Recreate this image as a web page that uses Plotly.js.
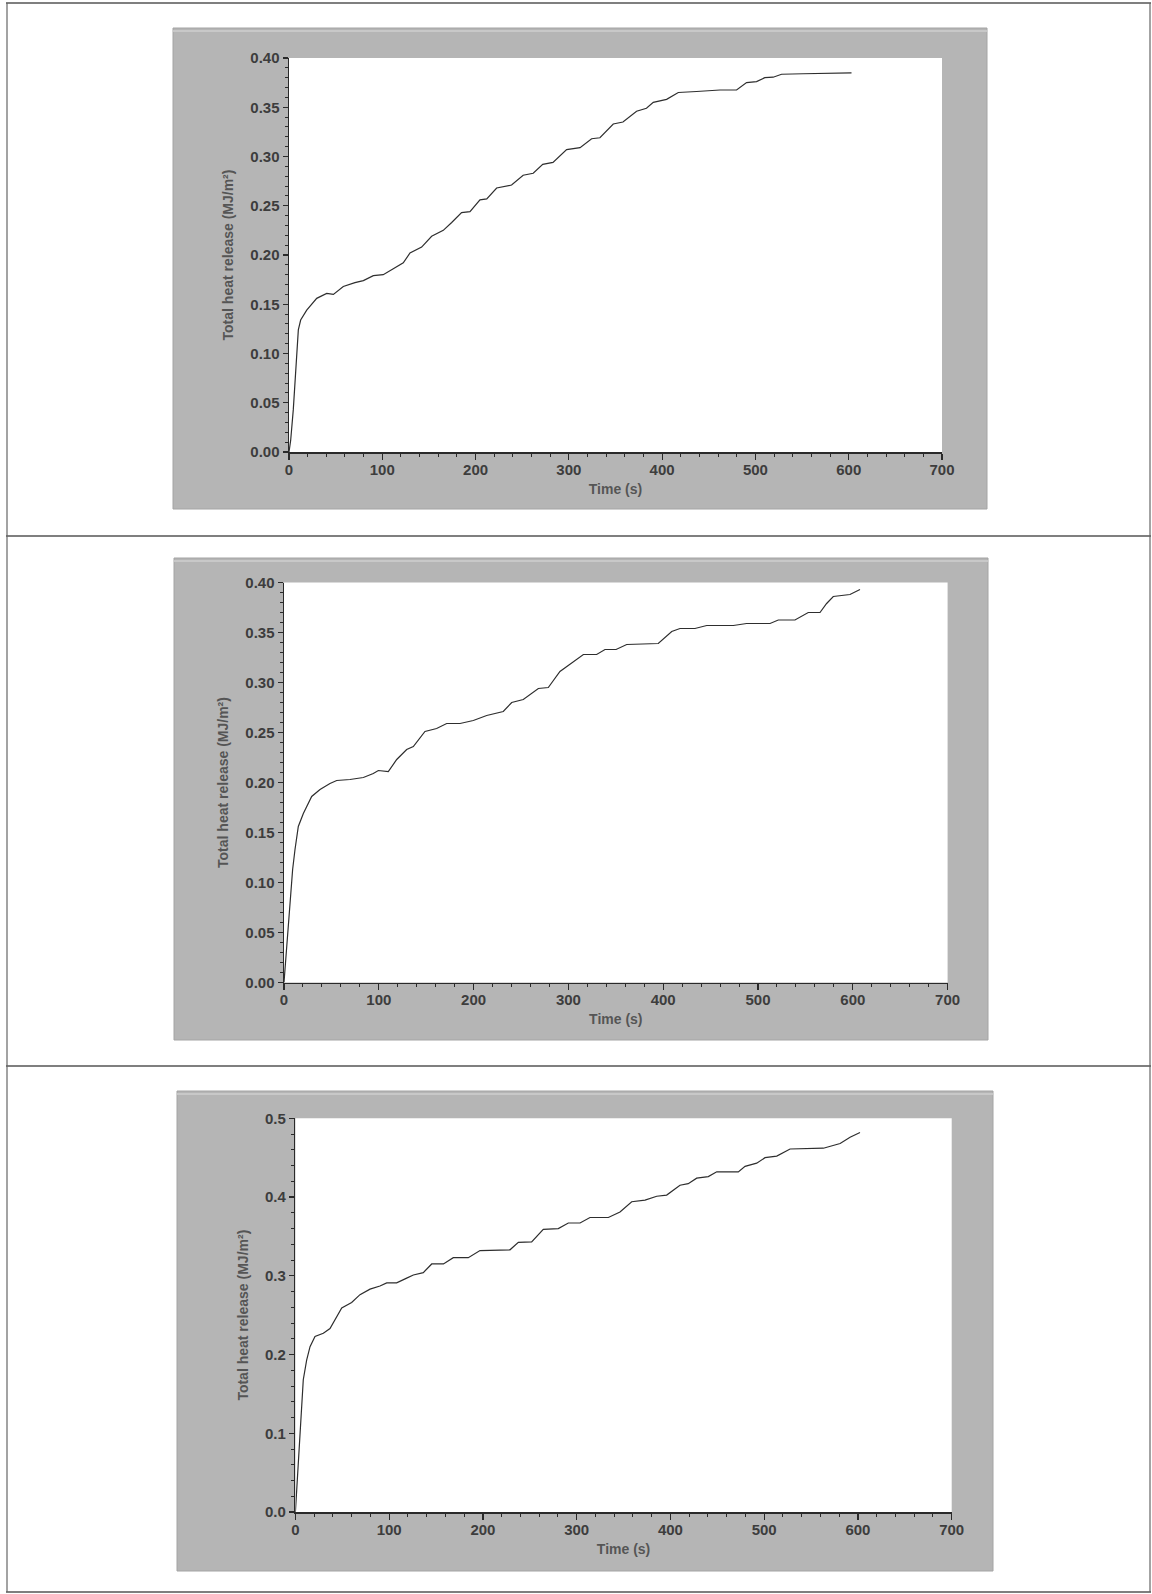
<!DOCTYPE html>
<html>
<head>
<meta charset="utf-8">
<script src="https://cdn.plot.ly/plotly-3.0.1.min.js"></script>
<style>
  html, body { margin: 0; padding: 0; background: #ffffff; }
  #chart { width: 1152px; height: 1594px; }
</style>
</head>
<body>
<div id="chart"></div>
<script>
// ---- Data ----
const xTitle = "Time (s)";
const yTitle = "Total heat release (MJ/m²)";

// Panel 1
const time1 = [0, 1.8, 4.6, 7.5, 10, 12.5, 19, 29.7, 40.4, 47.6, 58.2, 70.7, 79.7, 90.4, 101, 111.8, 122.5, 129.7, 142.2, 152.9, 165.4, 174.4, 185, 194, 204.7, 212, 222.6, 238.6, 251, 261.8, 272, 283, 297.6, 312, 324.4, 333.3, 347.6, 358, 372.6, 383.2, 390.5, 404.8, 417.3, 436.9, 462, 479.8, 490.5, 501.2, 510, 519, 528, 551, 603];
const thr1  = [0, 0.012, 0.043, 0.083, 0.124, 0.134, 0.144, 0.156, 0.161, 0.160, 0.168, 0.172, 0.174, 0.179, 0.180, 0.186, 0.192, 0.202, 0.208, 0.219, 0.225, 0.233, 0.243, 0.244, 0.256, 0.257, 0.268, 0.271, 0.281, 0.283, 0.292, 0.294, 0.307, 0.309, 0.318, 0.319, 0.333, 0.335, 0.346, 0.349, 0.355, 0.358, 0.365, 0.366, 0.3675, 0.3675, 0.375, 0.376, 0.380, 0.3805, 0.3835, 0.384, 0.385];

// Panel 2
const time2 = [0, 2.8, 6.3, 9.1, 11.6, 15.1, 20.4, 29.2, 38, 48.5, 55.6, 69.6, 83.7, 94.2, 99.5, 110, 118.9, 129.4, 136.4, 148.7, 161, 171.6, 185.7, 199.7, 213.8, 231.3, 240.2, 252.4, 268.3, 278.8, 291.1, 301.7, 315.8, 329.8, 338.6, 350.3, 361.5, 394.8, 409, 417.7, 433.5, 445.9, 474, 488, 512.7, 521.4, 539, 553, 565.4, 572.4, 579.4, 597, 607.6];
const thr2  = [0, 0.033, 0.079, 0.113, 0.133, 0.156, 0.169, 0.186, 0.193, 0.199, 0.202, 0.203, 0.205, 0.209, 0.212, 0.211, 0.223, 0.233, 0.236, 0.251, 0.254, 0.259, 0.259, 0.262, 0.267, 0.271, 0.280, 0.283, 0.294, 0.295, 0.311, 0.318, 0.328, 0.328, 0.333, 0.333, 0.338, 0.339, 0.351, 0.354, 0.354, 0.357, 0.357, 0.359, 0.359, 0.3625, 0.3625, 0.370, 0.370, 0.379, 0.386, 0.388, 0.393];

// Panel 3
const time3 = [0, 3.1, 6, 8.4, 12, 15.6, 20.9, 29.8, 36.9, 44, 49.4, 60, 68.9, 79.6, 90.2, 97.4, 108, 118.7, 125.8, 136.4, 145.4, 157.9, 168.4, 184.4, 196.9, 228.9, 237.8, 252, 264.4, 280.4, 291.1, 303.6, 314.2, 333.8, 346.2, 358.7, 372.9, 385.4, 396, 410.2, 419, 428, 440.4, 449.4, 472.4, 479.6, 492, 500.9, 513.4, 527.6, 563.1, 581, 591.6, 602.2];
const thr3  = [0, 0.062, 0.125, 0.168, 0.193, 0.210, 0.223, 0.227, 0.233, 0.248, 0.259, 0.266, 0.276, 0.283, 0.287, 0.291, 0.291, 0.297, 0.301, 0.304, 0.315, 0.315, 0.323, 0.323, 0.332, 0.333, 0.3425, 0.343, 0.359, 0.360, 0.367, 0.367, 0.374, 0.374, 0.381, 0.394, 0.396, 0.401, 0.4025, 0.415, 0.417, 0.424, 0.426, 0.432, 0.432, 0.439, 0.443, 0.450, 0.452, 0.461, 0.462, 0.468, 0.476, 0.482];

// ---- Layout geometry (pixels on the 1152x1594 page) ----
const W = 1152, H = 1594;
const px = v => v / W;
const py = v => 1 - v / H;

const panels = [
  { plot: [289, 58, 942, 452],    gray: [173, 28, 987, 509],   yMax: 0.40, yDtick: 0.05, yMinor: 0.01, fmt: ".2f", ystand: 13 },
  { plot: [284, 582.5, 947.6, 982.5], gray: [174, 558, 988, 1040], yMax: 0.40, yDtick: 0.05, yMinor: 0.01, fmt: ".2f", ystand: 13 },
  { plot: [295.4, 1118.3, 951.7, 1512], gray: [177, 1091, 993, 1571], yMax: 0.5, yDtick: 0.1, yMinor: 0.02, fmt: ".1f", ystand: 13 }
];
const series = [[time1, thr1], [time2, thr2], [time3, thr3]];

const tickFont  = { family: "Liberation Sans, Arial, sans-serif", size: 15, color: "#3d3d3d", weight: "bold" };
const titleFont = { family: "Liberation Sans, Arial, sans-serif", size: 14, color: "#555555", weight: "bold" };
const axisColor = "#2a2a2a";

const data = [];
const layout = {
  width: W, height: H,
  margin: { l: 0, r: 0, t: 0, b: 0, pad: 0, autoexpand: false },
  paper_bgcolor: "#ffffff",
  plot_bgcolor: "#ffffff",
  showlegend: false,
  shapes: [],
  annotations: []
};

panels.forEach((p, i) => {
  const n = i === 0 ? "" : String(i + 1);
  const xa = "xaxis" + n, ya = "yaxis" + n;
  const xr = "x" + n, yr = "y" + n;

  data.push({
    x: series[i][0], y: series[i][1],
    xaxis: xr, yaxis: yr,
    type: "scatter", mode: "lines",
    line: { color: "#2e2e2e", width: 1.2 },
    hoverinfo: "skip"
  });

  layout[xa] = {
    domain: [px(p.plot[0]), px(p.plot[2])],
    anchor: yr,
    range: [0, 700],
    dtick: 100, tick0: 0,
    ticks: "outside", ticklen: 6, tickwidth: 1.2, tickcolor: axisColor,
    ticklabelstandoff: -3,
    minor: { dtick: 20, ticks: "outside", ticklen: 3, tickwidth: 1, tickcolor: axisColor, showgrid: false },
    showline: true, linecolor: axisColor, linewidth: 1.5,
    showgrid: false, zeroline: false,
    tickfont: tickFont,
    automargin: true,
    title: { text: xTitle, font: titleFont, standoff: 7 }
  };
  layout[ya] = {
    domain: [py(p.plot[3]), py(p.plot[1])],
    anchor: xr,
    range: [0, p.yMax],
    dtick: p.yDtick, tick0: 0,
    tickformat: p.fmt,
    ticks: "outside", ticklen: 5, tickwidth: 1.2, tickcolor: axisColor,
    minor: { dtick: p.yMinor, ticks: "outside", ticklen: 3, tickwidth: 1, tickcolor: axisColor, showgrid: false },
    showline: true, linecolor: axisColor, linewidth: 1.5,
    showgrid: false, zeroline: false,
    tickfont: tickFont,
    automargin: true,
    title: { text: yTitle, font: titleFont, standoff: p.ystand }
  };

  // gray panel background
  layout.shapes.push({
    type: "rect", xref: "paper", yref: "paper", layer: "below",
    x0: px(p.gray[0]), x1: px(p.gray[2]), y0: py(p.gray[3]), y1: py(p.gray[1]),
    fillcolor: "#b5b5b5", line: { width: 1, color: "#a4a4a4" }
  });
  // lighter strip at top of gray panel
  layout.shapes.push({
    type: "line", xref: "paper", yref: "paper", layer: "below",
    x0: px(p.gray[0]), x1: px(p.gray[2]), y0: py(p.gray[1] + 3), y1: py(p.gray[1] + 3),
    line: { width: 1.5, color: "#cfcfcf" }
  });
  // white plotting area
  layout.shapes.push({
    type: "rect", xref: "paper", yref: "paper", layer: "below",
    x0: px(p.plot[0]), x1: px(p.plot[2]), y0: py(p.plot[3]), y1: py(p.plot[1]),
    fillcolor: "#ffffff", line: { width: 0 }
  });
});

// table frame lines
const hLines = [3, 536, 1066, 1592];
hLines.forEach(yv => layout.shapes.push({
  type: "line", xref: "paper", yref: "paper", layer: "above",
  x0: px(6), x1: px(1151), y0: py(yv), y1: py(yv),
  line: { width: 1.5, color: "#555555" }
}));
[7, 1150].forEach(xv => layout.shapes.push({
  type: "line", xref: "paper", yref: "paper", layer: "above",
  x0: px(xv), x1: px(xv), y0: py(3), y1: py(1592),
  line: { width: 1.2, color: "#666666" }
}));

Plotly.newPlot("chart", data, layout, { staticPlot: true, displayModeBar: false });
</script>
</body>
</html>
